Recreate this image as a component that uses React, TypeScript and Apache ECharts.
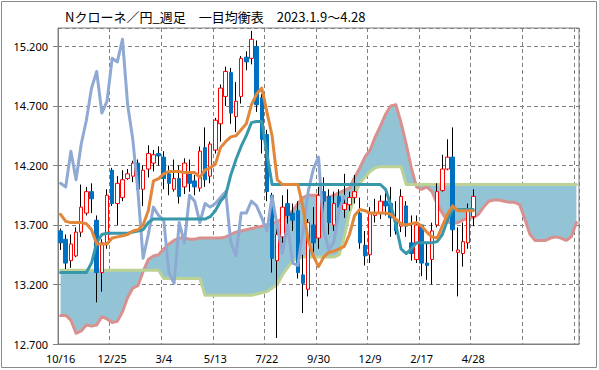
import React, { useEffect, useRef } from "react";
import * as echarts from "echarts";

const title = "Nクローネ／円_週足　一目均衡表　2023.1.9～4.28";
const xTickLabels = ["10/16", "12/25", "3/4", "5/13", "7/22", "9/30", "12/9", "2/17", "4/28"];
const slotCount = 101;
const chikouShift = 25;

const opens = [
  13.65, 13.58, 13.40, 13.44, 13.64, 13.80, 13.98, 13.74, 13.30, 13.55,
  14.16, 13.88, 13.93, 14.09, 14.11, 14.22, 14.00, 14.17, 14.22, 14.30,
  14.27, 14.13, 14.00, 14.09, 14.02, 14.13, 14.07, 14.01, 14.35, 14.11,
  14.33, 14.55, 14.78, 14.98, 14.61, 14.78, 15.11, 15.10, 15.20, 14.77,
  14.46, 13.95, 13.40, 13.60, 13.88, 13.80, 13.82, 13.28, 13.16, 13.70,
  13.59, 13.98, 13.94, 13.70, 13.94, 13.83, 13.87, 13.93, 13.80, 13.53,
  13.45, 13.78, 13.80, 13.90, 13.88, 13.74, 13.69, 13.86, 13.55, 13.41,
  13.70, 13.38, 13.41, 13.70, 13.99, 14.17, 14.27, 13.47, 13.46, 13.55, 13.77,
];
const closes = [
  13.55, 13.38, 13.54, 13.64, 13.85, 13.98, 13.92, 13.30, 13.55, 13.95,
  13.88, 14.05, 14.08, 14.13, 14.22, 14.00, 14.16, 14.30, 14.29, 14.28,
  14.09, 14.05, 14.09, 13.94, 14.22, 14.05, 14.02, 14.32, 14.08, 14.38,
  14.58, 14.85, 14.99, 14.64, 14.74, 15.10, 15.07, 15.26, 14.71, 14.42,
  13.98, 13.42, 13.62, 13.85, 13.78, 13.74, 13.30, 13.21, 13.72, 13.55,
  13.95, 13.90, 13.72, 13.88, 13.85, 13.88, 13.93, 13.98, 13.55, 13.44,
  13.80, 13.80, 13.90, 13.86, 13.76, 13.65, 13.94, 13.69, 13.46, 13.70,
  13.38, 13.36, 13.65, 13.98, 14.17, 14.27, 13.66, 13.49, 13.56, 13.83, 13.94,
];
const lows = [
  13.49, 13.33, 13.34, 13.43, 13.60, 13.78, 13.80, 13.05, 13.14, 13.50,
  13.86, 13.70, 13.90, 14.08, 14.06, 13.95, 13.86, 14.10, 14.15, 14.20,
  14.00, 13.95, 13.98, 13.88, 13.96, 13.98, 13.95, 13.98, 14.02, 14.05,
  14.30, 14.40, 14.70, 14.55, 14.48, 14.72, 15.00, 15.05, 14.65, 14.30,
  13.90, 13.30, 12.75, 13.55, 13.70, 13.65, 13.25, 12.96, 13.10, 13.45,
  13.50, 13.80, 13.62, 13.65, 13.78, 13.76, 13.82, 13.88, 13.50, 13.36,
  13.38, 13.72, 13.75, 13.78, 13.60, 13.62, 13.64, 13.60, 13.40, 13.38,
  13.27, 13.24, 13.20, 13.68, 13.98, 14.16, 13.48, 13.10, 13.35, 13.50, 13.69,
];
const highs = [
  13.67, 13.62, 13.62, 13.68, 14.04, 14.02, 14.05, 13.78, 13.58, 14.00,
  14.18, 14.11, 14.16, 14.17, 14.24, 14.25, 14.20, 14.37, 14.33, 14.36,
  14.32, 14.20, 14.25, 14.20, 14.26, 14.25, 14.12, 14.36, 14.52, 14.40,
  14.60, 14.88, 15.03, 15.02, 14.90, 15.12, 15.16, 15.33, 15.25, 14.80,
  14.50, 13.97, 13.70, 13.95, 14.00, 13.88, 13.90, 13.45, 13.75, 13.85,
  14.02, 14.10, 14.00, 13.98, 14.00, 14.13, 13.98, 14.12, 13.93, 13.65,
  13.85, 13.92, 13.95, 14.00, 14.02, 13.90, 14.00, 13.90, 13.78, 13.78,
  13.70, 13.55, 13.72, 14.05, 14.29, 14.42, 14.52, 13.68, 13.72, 13.88, 14.00,
];
const tenkan = [
  13.79, 13.73, 13.72, 13.72, 13.72, 13.71, 13.66, 13.54, 13.54, 13.54,
  13.59, 13.60, 13.61, 13.62, 13.65, 13.66, 13.70, 13.82, 14.07, 14.09,
  14.13, 14.15, 14.15, 14.15, 14.14, 14.14, 14.14, 14.10, 14.16, 14.18,
  14.21, 14.35, 14.40, 14.44, 14.45, 14.50, 14.55, 14.71, 14.80, 14.85,
  14.65, 14.45, 14.08, 14.04, 14.04, 14.04, 14.04, 13.85, 13.57, 13.44,
  13.35, 13.43, 13.47, 13.48, 13.50, 13.52, 13.62, 13.78, 13.83, 13.82,
  13.80, 13.80, 13.80, 13.80, 13.79, 13.75, 13.71, 13.70, 13.71, 13.72,
  13.69, 13.64, 13.60, 13.59, 13.69, 13.79, 13.86, 13.82, 13.82, 13.82, 13.82,
];
const kijun = [
  13.30, 13.30, 13.30, 13.30, 13.30, 13.30, 13.38, 13.55, 13.62, 13.63,
  13.63, 13.63, 13.63, 13.63, 13.64, 13.65, 13.66, 13.72, 13.75, 13.75,
  13.75, 13.75, 13.75, 13.75, 13.75, 13.75, 13.75, 13.75, 13.75, 13.77,
  13.82, 13.90, 13.95, 14.12, 14.25, 14.36, 14.45, 14.56, 14.57, 14.57,
  14.30, 14.04, 14.04, 14.04, 14.04, 14.04, 14.04, 14.04, 14.04, 14.04,
  14.04, 14.04, 14.04, 14.04, 14.04, 14.04, 14.04, 14.04, 14.04, 14.04,
  14.04, 14.04, 14.04, 14.00, 13.87, 13.70, 13.50, 13.46, 13.50, 13.55,
  13.55, 13.55, 13.55, 13.56, 13.62, 13.74, 13.83, 13.83, 13.83, 13.83, 13.83,
];
const senkouA = [
  12.94, 12.94, 12.90, 12.79, 12.81, 12.86, 12.85, 12.86, 12.93, 12.91,
  12.88, 12.89, 12.97, 13.09, 13.17, 13.19, 13.31, 13.41, 13.44, 13.45,
  13.50, 13.54, 13.57, 13.59, 13.59, 13.58, 13.58, 13.59, 13.59, 13.59,
  13.59, 13.59, 13.60, 13.62, 13.64, 13.65, 13.66, 13.67, 13.68, 13.69,
  13.70, 13.71, 13.73, 13.75, 13.78, 13.82, 13.88, 13.93, 13.95, 13.95,
  13.95, 13.94, 13.93, 13.95, 13.97, 13.99, 14.01, 14.10, 14.18, 14.27,
  14.33, 14.44, 14.53, 14.63, 14.70, 14.71, 14.56, 14.38, 14.18, 14.02,
  14.00, 14.02, 13.98, 13.88, 13.80, 13.73, 13.71, 13.72, 13.74, 13.76,
  13.76, 13.79, 13.85, 13.90, 13.91, 13.91, 13.90, 13.89, 13.89, 13.87,
  13.75, 13.62, 13.57, 13.57, 13.57, 13.59, 13.60, 13.59, 13.57, 13.60, 13.72,
];
const senkouB = [
  13.32, 13.32, 13.32, 13.32, 13.32, 13.32, 13.32, 13.32, 13.32, 13.32,
  13.32, 13.32, 13.32, 13.32, 13.32, 13.32, 13.32, 13.32, 13.32, 13.32,
  13.25, 13.25, 13.25, 13.25, 13.25, 13.25, 13.25, 13.25, 13.11, 13.11,
  13.11, 13.11, 13.11, 13.11, 13.11, 13.11, 13.11, 13.11, 13.12, 13.13,
  13.14, 13.17, 13.20, 13.28, 13.34, 13.40, 13.42, 13.43, 13.43, 13.43,
  13.43, 13.43, 13.43, 13.43, 13.45, 13.60, 13.80, 13.95, 14.05, 14.10,
  14.15, 14.18, 14.19, 14.19, 14.19, 14.19, 14.19, 14.04, 14.04, 14.04,
  14.04, 14.04, 14.04, 14.04, 14.04, 14.04, 14.04, 14.04, 14.04, 14.04,
  14.04, 14.04, 14.04, 14.04, 14.04, 14.04, 14.04, 14.04, 14.04, 14.04,
  14.04, 14.04, 14.04, 14.04, 14.04, 14.04, 14.04, 14.04, 14.04, 14.04, 14.04,
];

export default function App() {
  const ref = useRef<HTMLDivElement>(null);
  useEffect(() => {
    if (!ref.current) return;
    const chart = echarts.init(ref.current, undefined, { renderer: "svg" });
    const cats = Array.from({ length: slotCount }, (_, i) => String(i));
    const bodies = opens.map((o, i) => [o, closes[i], Math.min(o, closes[i]), Math.max(o, closes[i])]);
    const wicks = opens.map((o, i) => [o, o, lows[i], highs[i]]);
    const chikou = cats.map((_, i) => (i + chikouShift < closes.length ? closes[i + chikouShift] : "-"));
    const cloudBase = senkouA.map((a, i) => Math.min(a, senkouB[i]));
    const cloudBand = senkouA.map((a, i) => Math.abs(a - senkouB[i]));
    const line = (name: string, data: any[], color: string, z: number, width = 3) => ({
      name, type: "line", data, showSymbol: false, symbol: "none", z,
      lineStyle: { color, width, cap: "round", join: "round" }, itemStyle: { color },
    });
    chart.setOption({
      animation: false,
      backgroundColor: "#ffffff",
      title: {
        text: title, left: 60, top: 5,
        textStyle: { fontFamily: "Noto Sans CJK JP", fontSize: 13, fontWeight: "normal", color: "#000" },
      },
      graphic: [
        { type: "rect", shape: { x: 1.5, y: 1.5, width: 595, height: 366 }, style: { fill: "none", stroke: "#8a8a8a", lineWidth: 1 }, silent: true },
      ],
      grid: { left: 58, top: 28, width: 521, height: 316, show: true, borderColor: "#808080", borderWidth: 1, backgroundColor: "transparent" },
      xAxis: {
        type: "category", data: cats, boundaryGap: true,
        axisLine: { lineStyle: { color: "#808080" } },
        axisTick: { interval: 9, length: 5, lineStyle: { color: "#808080" } },
        axisLabel: {
          interval: 9, margin: 9, color: "#000", fontFamily: "Noto Sans", fontSize: 11,
          formatter: (_v: string, idx: number) => (idx % 10 === 0 ? xTickLabels[idx / 10] ?? "" : ""),
        },
        splitLine: { show: true, interval: 9, lineStyle: { color: "#808080", type: [4, 3], width: 1 } },
      },
      yAxis: {
        type: "value", min: 12.7, max: 15.355, interval: 0.5,
        axisLine: { show: true, lineStyle: { color: "#808080" } },
        axisTick: { show: true, length: 5, lineStyle: { color: "#808080" } },
        axisLabel: { showMaxLabel: false, margin: 10, color: "#000", fontFamily: "Noto Sans", fontSize: 11, formatter: (v: number) => v.toFixed(3) },
        splitLine: { show: true, lineStyle: { color: "#808080", type: [4, 3], width: 1 } },
      },
      series: [
        { name: "cloudBase", type: "line", stack: "cloud", data: cloudBase, showSymbol: false, symbol: "none", lineStyle: { width: 0, opacity: 0 }, z: 1 },
        { name: "cloud", type: "line", stack: "cloud", data: cloudBand, showSymbol: false, symbol: "none", lineStyle: { width: 0, opacity: 0 }, areaStyle: { color: "#93C4D5", opacity: 1 }, z: 1 },
        line("senkouA", senkouA, "#D8918E", 2),
        line("senkouB", senkouB, "#BCD294", 2),
        {
          name: "wick", type: "candlestick", data: wicks, barWidth: 1, z: 3,
          itemStyle: { color: "#000", color0: "#000", borderColor: "#000", borderColor0: "#000", borderWidth: 1 },
        },
        {
          name: "body", type: "candlestick", data: bodies, barWidth: 4, z: 4,
          itemStyle: { color: "#ffffff", color0: "#0070C0", borderColor: "#FF0000", borderColor0: "#0070C0", borderWidth: 1 },
        },
        line("chikou", chikou, "#8FA9D4", 5),
        line("kijun", kijun, "#3797AB", 6),
        line("tenkan", tenkan, "#E2873A", 7),
      ],
    });
    return () => chart.dispose();
  }, []);
  return <div ref={ref} style={{ position: "fixed", left: 0, top: 0, width: 599, height: 370 }} />;
}
